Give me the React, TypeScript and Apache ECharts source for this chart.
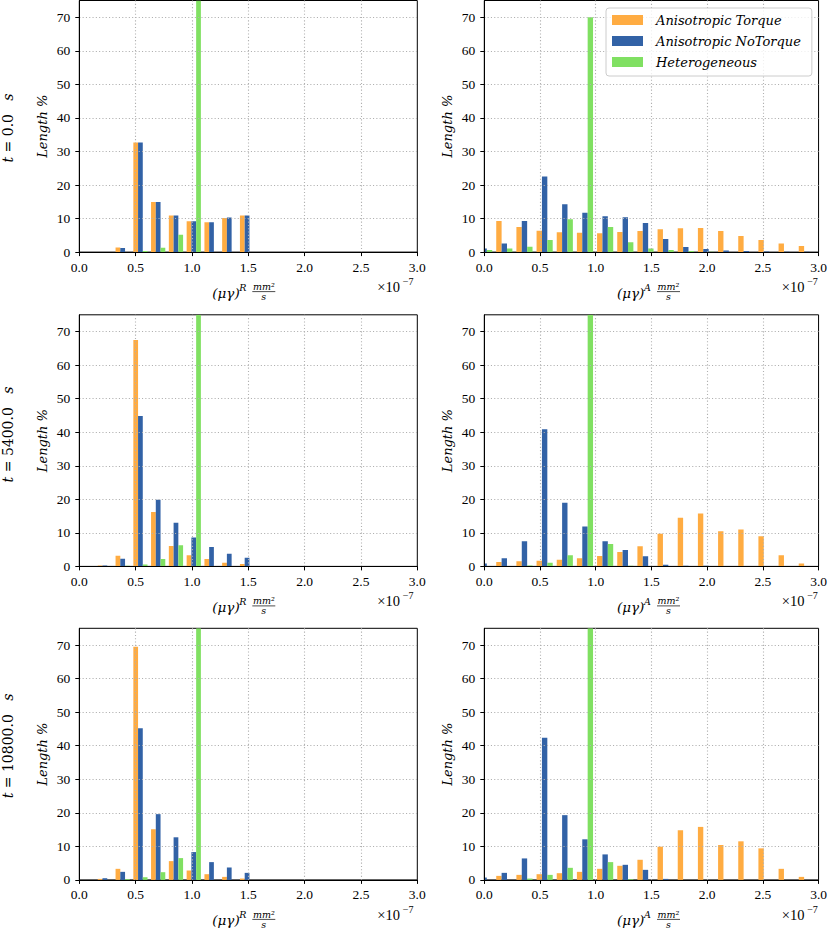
import React, { useEffect, useRef } from 'react';
import * as echarts from 'echarts';

// ---------------- data ----------------
const seriesNames = ['Anisotropic Torque', 'Anisotropic NoTorque', 'Heterogeneous'];
const seriesColors = ['#FFAC42', '#3262A6', '#80E062'];
const rowTimes = ['0.0', '5400.0', '10800.0'];
const columnSuperscripts = ['R', 'A'];

// histogram bin left edges (units of 1e-7 mm^2/s)
const leftBinEdges = [0.148, 0.306, 0.464, 0.621, 0.779, 0.937, 1.095, 1.252, 1.41, 1.568];
const rightBinEdges = [-0.092, 0.089, 0.27, 0.451, 0.632, 0.813, 0.994, 1.175, 1.356, 1.537, 1.718, 1.899, 2.08, 2.261, 2.442, 2.623, 2.804, 2.985];

// left column: (mu gamma)^R
const r0Torque = [0, 1.4, 32.7, 14.9, 10.9, 9.2, 8.9, 10.2, 10.9];
const r0NoTorque = [0, 1.2, 32.7, 14.9, 10.9, 9.2, 8.9, 10.3, 10.9];
const r0Hetero = [0, 0, 0.3, 1.3, 5.2, 93.2, 0, 0, 0];
const r1Torque = [0.3, 3.2, 67.5, 16.2, 6.1, 3.3, 2.2, 1.1, 0.7];
const r1NoTorque = [0.3, 2.3, 44.8, 19.9, 13.0, 8.6, 5.8, 3.8, 2.6];
const r1Hetero = [0, 0.2, 0.6, 2.2, 6.3, 90.7, 0, 0, 0];
const r2Torque = [0.3, 3.3, 69.5, 15.1, 5.6, 2.8, 1.7, 0.9, 0.4];
const r2NoTorque = [0.5, 2.4, 45.2, 19.6, 12.7, 8.3, 5.3, 3.7, 2.1];
const r2Hetero = [0, 0.2, 0.8, 2.3, 6.5, 90.2, 0, 0, 0];

// right column: (mu gamma)^A
const a0Torque = [6.9, 9.3, 7.5, 6.4, 5.9, 5.8, 5.6, 6.0, 6.3, 6.8, 7.1, 7.2, 6.3, 4.8, 3.6, 2.6, 1.8];
const a0NoTorque = [1.1, 2.6, 9.3, 22.5, 14.3, 11.7, 10.7, 10.4, 8.7, 3.9, 1.5, 0.9, 0.5, 0.3, 0.2, 0.1, 0.1];
const a0Hetero = [0.6, 1.1, 1.6, 3.6, 9.8, 70.0, 7.5, 2.9, 1.1, 0.6, 0.3, 0.1, 0, 0, 0, 0, 0];
const a1Torque = [3.0, 1.3, 1.5, 1.7, 2.0, 2.4, 3.1, 4.3, 6.0, 9.7, 14.5, 15.8, 10.5, 11.0, 9.0, 3.3, 0.9];
const a1NoTorque = [0.9, 2.4, 7.5, 40.9, 19.0, 11.9, 7.5, 4.9, 3.0, 0.5, 0.2, 0.2, 0, 0, 0, 0, 0];
const a1Hetero = [0, 0, 0.3, 1.1, 3.3, 88.4, 6.7, 0.2, 0, 0, 0, 0, 0, 0, 0, 0, 0];
const a2Torque = [1.7, 1.2, 1.5, 1.7, 2.0, 2.4, 3.3, 4.2, 6.0, 9.9, 14.8, 15.8, 10.4, 11.5, 9.4, 3.3, 0.9];
const a2NoTorque = [0.7, 2.1, 6.4, 42.4, 19.3, 12.1, 7.6, 4.5, 3.0, 0.3, 0, 0, 0, 0, 0, 0, 0];
const a2Hetero = [0, 0, 0.4, 1.5, 3.6, 89.0, 5.3, 0.2, 0, 0, 0, 0, 0, 0, 0, 0, 0];

const xMin = 0, xMax = 3, xInterval = 0.5;
const yMin = 0, yMax = 75, yInterval = 10;

// ---------------- layout ----------------
const colLeft = [79.3, 484.3];
const colWidth = [338, 337.4];
const rowTop = [0.5, 314.8, 628.3];
const gridH = 251.6;
const rowLabelCenter = [128, 434.5, 746];

const serifUp = 'Liberation Serif';
const serifIt = 'DejaVu Serif';

const panels = [
  { row: 0, col: 0, edges: leftBinEdges, values: [r0Torque, r0NoTorque, r0Hetero] },
  { row: 0, col: 1, edges: rightBinEdges, values: [a0Torque, a0NoTorque, a0Hetero] },
  { row: 1, col: 0, edges: leftBinEdges, values: [r1Torque, r1NoTorque, r1Hetero] },
  { row: 1, col: 1, edges: rightBinEdges, values: [a1Torque, a1NoTorque, a1Hetero] },
  { row: 2, col: 0, edges: leftBinEdges, values: [r2Torque, r2NoTorque, r2Hetero] },
  { row: 2, col: 1, edges: rightBinEdges, values: [a2Torque, a2NoTorque, a2Hetero] },
];

function buildOption() {
  const grid: any[] = [];
  const xAxis: any[] = [];
  const yAxis: any[] = [];
  const series: any[] = [];
  const graphic: any[] = [];

  panels.forEach((p, i) => {
    const left = colLeft[p.col];
    const width = colWidth[p.col];
    const top = rowTop[p.row];
    grid.push({
      left, top, width, height: gridH,
      show: true, borderColor: '#000', borderWidth: 1, backgroundColor: 'transparent',
    });
    xAxis.push({
      type: 'value', gridIndex: i, min: xMin, max: xMax, interval: xInterval, z: 3,
      axisLine: { show: true, onZero: false, lineStyle: { color: '#000', width: 1 } },
      axisTick: { show: true, length: 4, lineStyle: { color: '#000' } },
      axisLabel: {
        formatter: (v: number) => v.toFixed(1), margin: 8,
        fontFamily: serifUp, fontSize: 13.5, color: '#000',
      },
      splitLine: {
        show: true, showMinLine: false, showMaxLine: false,
        lineStyle: { type: [1.1, 2.2], color: '#b0b0b0', width: 1.1 },
      },
    });
    yAxis.push({
      type: 'value', gridIndex: i, min: yMin, max: yMax, interval: yInterval, z: 3,
      axisLine: { show: true, onZero: false, lineStyle: { color: '#000', width: 1 } },
      axisTick: { show: true, length: 4, lineStyle: { color: '#000' } },
      axisLabel: {
        showMaxLabel: false, margin: 9,
        fontFamily: serifUp, fontSize: 13.5, color: '#000',
      },
      splitLine: {
        show: true, showMinLine: false, showMaxLine: false,
        lineStyle: { type: [1.1, 2.2], color: '#b0b0b0', width: 1.1 },
      },
      name: 'Length %', nameLocation: 'middle', nameGap: 30,
      nameTextStyle: { fontFamily: serifIt, fontStyle: 'italic', fontSize: 13, color: '#000' },
    });

    p.values.forEach((vals, s) => {
      const data = vals.map((h, k) => {
        const w = p.edges[k + 1] - p.edges[k];
        const x0 = p.edges[k] + w * (0.1 + (s * 0.8) / 3);
        const x1 = x0 + (w * 0.8) / 3;
        return [x0, x1, h];
      });
      series.push({
        type: 'custom', name: seriesNames[s], xAxisIndex: i, yAxisIndex: i, z: 1,
        clip: true,
        itemStyle: { color: seriesColors[s] },
        encode: { x: [0, 1], y: 2 },
        data,
        renderItem: (params: any, api: any) => {
          const a = api.coord([api.value(0), api.value(2)]);
          const b = api.coord([api.value(1), 0]);
          const cs = params.coordSys;
          const shape = echarts.graphic.clipRectByRect(
            { x: a[0], y: a[1], width: b[0] - a[0], height: b[1] - a[1] },
            { x: cs.x, y: cs.y, width: cs.width, height: cs.height }
          );
          if (!shape) return null;
          return { type: 'rect', shape, style: { fill: seriesColors[s] } };
        },
      });
    });

    // x-axis title (mu gamma)^X mm^2/s
    const cx = left + width / 2;
    const y0 = top + gridH;
    graphic.push({
      type: 'text', x: cx - 36, y: y0 + 40.5,
      style: { text: '(μγ)', fontFamily: serifIt, fontStyle: 'italic', fontSize: 13.5, fill: '#000', align: 'left', verticalAlign: 'middle', textAlign: 'left', textVerticalAlign: 'middle' },
    });
    graphic.push({
      type: 'text', x: cx - 9, y: y0 + 35,
      style: { text: columnSuperscripts[p.col], fontFamily: serifIt, fontStyle: 'italic', fontSize: 9.5, fill: '#000', align: 'left', verticalAlign: 'middle', textAlign: 'left', textVerticalAlign: 'middle' },
    });
    graphic.push({
      type: 'text', x: cx + 15.5, y: y0 + 34.5,
      style: { text: 'mm²', fontFamily: serifIt, fontStyle: 'italic', fontSize: 9.5, fill: '#000', align: 'center', verticalAlign: 'middle', textAlign: 'center', textVerticalAlign: 'middle' },
    });
    graphic.push({
      type: 'line', shape: { x1: cx + 4, y1: y0 + 39.5, x2: cx + 27, y2: y0 + 39.5 },
      style: { stroke: '#000', lineWidth: 0.7 },
    });
    graphic.push({
      type: 'text', x: cx + 15.5, y: y0 + 44.5,
      style: { text: 's', fontFamily: serifIt, fontStyle: 'italic', fontSize: 9.5, fill: '#000', align: 'center', verticalAlign: 'middle', textAlign: 'center', textVerticalAlign: 'middle' },
    });
    // offset text x10^-7
    const right = left + width;
    graphic.push({
      type: 'text', x: right - 40, y: y0 + 35,
      style: { text: '×10', fontFamily: serifUp, fontSize: 14.5, fill: '#000', align: 'left', verticalAlign: 'middle', textAlign: 'left', textVerticalAlign: 'middle' },
    });
    graphic.push({
      type: 'text', x: right - 14.5, y: y0 + 29.5,
      style: { text: '−7', fontFamily: serifUp, fontSize: 10, fill: '#000', align: 'left', verticalAlign: 'middle', textAlign: 'left', textVerticalAlign: 'middle' },
    });
  });

  // row labels t = ... s
  rowTimes.forEach((t, r) => {
    graphic.push({
      type: 'text', x: 8, y: rowLabelCenter[r], rotation: Math.PI / 2,
      style: {
        text: `{i|t} = ${t}   {i|s}`,
        fontFamily: serifIt, fontSize: 14, fill: '#000',
        align: 'center', verticalAlign: 'middle', textAlign: 'center', textVerticalAlign: 'middle',
        rich: { i: { fontFamily: serifIt, fontStyle: 'italic', fontSize: 14 } },
      },
    });
  });

  return {
    animation: false,
    backgroundColor: '#ffffff',
    grid, xAxis, yAxis, series, graphic,
    legend: {
      data: seriesNames.map((n) => ({ name: n, icon: 'rect' })),
      orient: 'vertical', left: 606, top: 8,
      itemWidth: 31, itemHeight: 10, itemGap: 6,
      padding: [4.5, 11, 6.5, 6],
      backgroundColor: 'rgba(255,255,255,0.8)', borderColor: '#cccccc', borderWidth: 1, borderRadius: 3,
      selectedMode: false, z: 10,
      textStyle: { fontFamily: serifIt, fontStyle: 'italic', fontSize: 13, color: '#000', lineHeight: 15, padding: [0, 0, 0, 8] },
    },
  };
}

export default function App() {
  const ref = useRef<HTMLDivElement>(null);
  useEffect(() => {
    const chart = echarts.init(ref.current!, null, { renderer: 'svg' });
    chart.setOption(buildOption() as any);
    return () => chart.dispose();
  }, []);
  return (
    <div
      ref={ref}
      style={{ position: 'fixed', left: 0, top: 0, width: 830, height: 931, background: '#fff' }}
    />
  );
}
